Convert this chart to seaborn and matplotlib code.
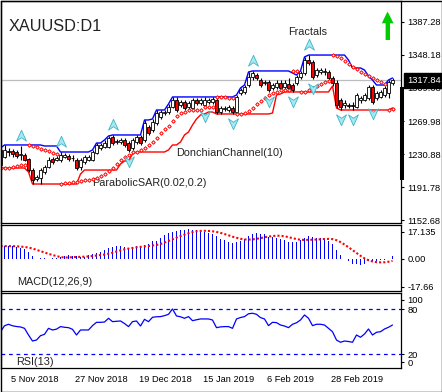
import numpy as np
import pandas as pd
import matplotlib
matplotlib.use("Agg")
import matplotlib.pyplot as plt
import matplotlib.transforms as mtransforms
from matplotlib.path import Path
from matplotlib.patches import Polygon, Rectangle
import seaborn as sns

# ---------------- data ----------------
open_ = [1218.0, 1227.5, 1234.6, 1234.6, 1233.4, 1229.9, 1229.9, 1225.1, 1212.1, 1201.5,
         1202.7, 1209.8, 1215.7, 1225.1, 1223.9, 1223.9, 1227.5, 1228.7, 1226.3, 1223.9,
         1215.7, 1221.6, 1223.9, 1223.9, 1232.2, 1238.1, 1239.3, 1239.3, 1251.1, 1245.2,
         1245.2, 1247.6, 1244.0, 1238.1, 1245.2, 1251.1, 1247.6, 1262.9, 1259.4, 1267.7,
         1274.7, 1279.4, 1280.6, 1286.5, 1294.8, 1288.9, 1292.5, 1286.5, 1285.4, 1294.8,
         1291.3, 1288.9, 1292.5, 1292.5, 1294.8, 1280.6, 1284.2, 1283.0, 1285.4, 1280.6,
         1303.1, 1304.3, 1312.5, 1322.0, 1324.3, 1318.4, 1314.9, 1316.1, 1309.0, 1310.2,
         1314.9, 1310.2, 1313.7, 1312.5, 1314.9, 1322.0, 1326.7, 1342.0, 1339.7, 1324.3,
         1327.9, 1327.9, 1327.9, 1320.8, 1314.9, 1294.8, 1288.9, 1288.9, 1288.9, 1286.5,
         1294.8, 1294.8, 1297.2, 1310.2, 1297.2, 1298.4, 1300.7, 1303.1, 1314.9]
high_ = [1238.1, 1241.7, 1238.1, 1236.9, 1235.8, 1240.5, 1232.2, 1226.3, 1214.5, 1206.2,
         1214.5, 1218.0, 1227.5, 1227.5, 1228.7, 1233.4, 1232.2, 1231.0, 1229.9, 1226.3,
         1226.3, 1229.9, 1229.9, 1235.8, 1244.0, 1244.0, 1247.6, 1252.3, 1253.5, 1248.8,
         1249.9, 1249.9, 1246.4, 1249.9, 1253.5, 1253.5, 1271.2, 1265.3, 1272.4, 1283.0,
         1283.0, 1283.0, 1290.1, 1298.4, 1298.4, 1294.8, 1294.8, 1293.6, 1297.2, 1297.2,
         1297.2, 1298.4, 1297.2, 1298.4, 1297.2, 1287.7, 1287.7, 1288.9, 1287.7, 1300.7,
         1309.0, 1312.5, 1327.9, 1329.1, 1326.7, 1320.8, 1318.4, 1318.4, 1314.9, 1318.4,
         1318.4, 1318.4, 1320.8, 1314.9, 1324.3, 1329.1, 1345.6, 1347.9, 1342.0, 1332.6,
         1332.6, 1332.6, 1330.2, 1323.2, 1318.4, 1297.2, 1294.8, 1291.3, 1292.5, 1303.1,
         1299.5, 1303.1, 1312.5, 1312.5, 1305.4, 1306.6, 1311.3, 1318.4, 1320.8]
low_ = [1214.5, 1226.3, 1228.7, 1227.5, 1226.3, 1223.9, 1222.8, 1209.8, 1195.6, 1199.1,
        1195.6, 1207.4, 1214.5, 1219.2, 1222.8, 1221.6, 1226.3, 1222.8, 1222.8, 1212.1,
        1212.1, 1219.2, 1222.8, 1222.8, 1231.0, 1235.8, 1238.1, 1238.1, 1241.7, 1242.8,
        1242.8, 1239.3, 1233.4, 1235.8, 1242.8, 1241.7, 1245.2, 1253.5, 1257.0, 1265.3,
        1272.4, 1277.1, 1278.3, 1285.4, 1280.6, 1286.5, 1283.0, 1284.2, 1283.0, 1288.9,
        1288.9, 1286.5, 1290.1, 1290.1, 1278.3, 1278.3, 1281.8, 1280.6, 1278.3, 1279.4,
        1300.7, 1301.9, 1310.2, 1318.4, 1318.4, 1310.2, 1312.5, 1304.3, 1306.6, 1307.8,
        1306.6, 1307.8, 1306.6, 1304.3, 1312.5, 1319.6, 1324.3, 1336.1, 1319.6, 1322.0,
        1325.5, 1324.3, 1318.4, 1311.3, 1285.4, 1283.0, 1285.4, 1285.4, 1283.0, 1285.4,
        1291.3, 1293.6, 1294.8, 1290.1, 1294.8, 1297.2, 1298.4, 1297.2, 1312.5]
close_ = [1235.8, 1235.8, 1233.4, 1231.0, 1228.7, 1231.0, 1223.9, 1212.1, 1200.3, 1203.9,
          1212.1, 1215.7, 1223.9, 1221.6, 1226.3, 1229.9, 1229.9, 1225.1, 1225.8, 1214.5,
          1223.9, 1227.5, 1227.5, 1233.4, 1241.7, 1241.7, 1244.0, 1249.9, 1244.0, 1246.4,
          1247.6, 1241.7, 1235.8, 1247.6, 1251.1, 1244.0, 1267.7, 1255.8, 1268.8, 1279.4,
          1280.6, 1281.0, 1286.5, 1294.8, 1283.0, 1292.5, 1285.4, 1291.3, 1294.8, 1291.3,
          1294.8, 1294.8, 1294.8, 1295.5, 1280.6, 1285.4, 1285.0, 1286.5, 1280.6, 1298.4,
          1306.6, 1310.2, 1322.0, 1326.7, 1320.8, 1312.5, 1316.1, 1306.6, 1312.5, 1314.9,
          1309.0, 1314.9, 1309.0, 1306.6, 1322.0, 1326.7, 1342.0, 1338.5, 1322.0, 1330.2,
          1330.2, 1329.5, 1320.8, 1314.9, 1288.9, 1286.5, 1291.3, 1287.7, 1287.7, 1300.7,
          1297.2, 1300.7, 1310.2, 1292.5, 1303.1, 1304.3, 1309.0, 1316.1, 1318.4]
macd_main = [8.0, 8.0, 8.0, 8.0, 7.3, 6.7, 6.3, 4.2, 1.9, 0.1,
             0.6, 0.6, 0.1, 0.6, 0.6, 0.8, 1.5, 2.3, 1.5, 1.9,
             1.3, 1.0, 2.1, 2.7, 3.8, 4.2, 5.4, 6.5, 7.3, 8.0,
             8.0, 7.7, 6.9, 7.3, 8.0, 8.0, 9.0, 9.2, 11.1, 11.5,
             13.0, 15.1, 16.1, 17.2, 17.8, 18.0, 18.0, 18.6, 18.0, 18.0,
             16.9, 16.9, 16.3, 15.7, 14.4, 12.7, 12.1, 10.6, 10.2, 10.6,
             11.2, 12.7, 14.4, 15.7, 16.3, 15.7, 15.7, 14.0, 13.7, 13.1,
             12.3, 11.6, 10.6, 10.6, 10.6, 11.6, 13.1, 14.4, 13.7, 13.1,
             13.1, 12.3, 11.2, 9.3, 5.5, 2.5, 0.1, -1.7, -3.2, -3.2,
             -3.8, -3.2, -1.7, -1.7, -1.3, -1.1, -1.1, -0.2, 1.5]
rsi_13 = [50, 58, 60, 58, 57, 56.4, 54.6, 45.7, 37.7, 39,
          44.8, 46.6, 54.6, 52.4, 53.5, 56.9, 56, 55.5, 53.3, 45.7,
          52.4, 52.4, 52.4, 58.2, 62.6, 62.6, 63, 68, 63.5, 64,
          64.4, 61, 56.9, 63.5, 64.4, 57.7, 66.6, 63.5, 69.3, 70,
          70.2, 71.5, 73.3, 80.4, 71.1, 70, 68, 70.2, 64.8, 66,
          67.1, 67.1, 67.1, 65.7, 55.5, 56.5, 56.9, 56.9, 54.6, 67.1,
          69, 70.2, 74, 74.7, 73.3, 68.9, 67.1, 58.2, 62.6, 62.2,
          59, 57.7, 55.5, 60, 62, 65.7, 72.4, 68, 58.2, 60,
          60, 59, 54.6, 50.1, 39, 36, 37.7, 37, 36, 45.7,
          42.7, 47, 53.7, 45.7, 49.3, 50.1, 53.7, 56, 59]
price_ticks = [1387.28, 1348.18, 1309.08, 1269.98, 1230.88, 1191.78, 1152.68]
macd_ticks = [17.135, 0.0, -17.66]
macd_tick_labels = ["17.135", "0.00", "-17.66"]
rsi_levels = [80, 20]
rsi_tick_pos = [92.5, 80, 20, 9.5]
rsi_tick_labels = ["100", "80", "20", "0"]
date_idx = [3, 19, 35, 51, 67, 83]
date_labels = ["5 Nov 2018", "27 Nov 2018", "19 Dec 2018", "15 Jan 2019", "6 Feb 2019", "28 Feb 2019"]
last_price = 1317.84

# ---------------- indicators derived from the data ----------------
o, h, l, c = (np.asarray(v, dtype=float) for v in (open_, high_, low_, close_))
n = len(c)
idx = np.arange(n)
don_up = pd.Series(h).rolling(10, min_periods=1).max().to_numpy()
don_lo = pd.Series(l).rolling(10, min_periods=1).min().to_numpy()


def parabolic_sar(h, l, step=0.02, amax=0.2):
    sar = np.empty(len(h))
    up, af, ep, s = True, step, h[0], l[0]
    sar[0] = s
    for i in range(1, len(h)):
        s = s + af * (ep - s)
        if up:
            s = min(s, l[i - 1], l[i - 2] if i >= 2 else l[i - 1])
            if l[i] < s:
                up, s, ep, af = False, ep, l[i], step
            elif h[i] > ep:
                ep, af = h[i], min(af + step, amax)
        else:
            s = max(s, h[i - 1], h[i - 2] if i >= 2 else h[i - 1])
            if h[i] > s:
                up, s, ep, af = True, ep, h[i], step
            elif l[i] < ep:
                ep, af = l[i], min(af + step, amax)
        sar[i] = s
    return sar


sar = parabolic_sar(h, l)
fr_up = [i for i in range(2, n - 2) if h[i] > max(h[i - 2], h[i - 1], h[i + 1], h[i + 2])]
fr_dn = [i for i in range(2, n - 2) if l[i] < min(l[i - 2], l[i - 1], l[i + 1], l[i + 2])]
signal = pd.Series(macd_main).rolling(9, min_periods=1).mean().to_numpy()

# ---------------- figure ----------------
sns.set_style("white")
plt.rcParams['font.family'] = ['Liberation Sans', 'DejaVu Sans']

W, H = 442, 392
fig = plt.figure(figsize=(W / 100, H / 100), dpi=100)


def box(x0, y0, x1, y1):
    return [x0 / W, 1 - y1 / H, (x1 - x0) / W, (y1 - y0) / H]


ax = fig.add_axes(box(0.9, 0.5, 401, 223))
ax2 = fig.add_axes(box(0.9, 224.5, 401, 290.7))
ax3 = fig.add_axes(box(0.9, 293.3, 401, 368.3))
XLIM = (0.1, 100.125)
TXT = '#222222'
for a in (ax, ax2, ax3):
    a.set_xlim(*XLIM)
    a.set_facecolor('white')
    for s in a.spines.values():
        s.set_color('black')
        s.set_linewidth(0.9)
    a.yaxis.tick_right()
    a.tick_params(axis='y', direction='out', length=2.2, width=0.8, pad=2.5,
                  labelsize=6.7, colors='black')
    a.set_xticks([])

# ---- main price panel ----
ax.set_ylim(1149.55, 1412.3)
ax.axhline(last_price, color='#BDBDBD', lw=0.9, zorder=1)
sns.lineplot(x=idx, y=don_up, color='#0000FF', lw=1.0, ax=ax, legend=False, zorder=2)
sns.lineplot(x=idx, y=don_lo, color='#FF0000', lw=1.0, ax=ax, legend=False, zorder=2)

rising = c >= o
ax.vlines(idx, l, h, color='black', lw=0.8, zorder=3)
ax.bar(idx, np.maximum(np.abs(c - o), 0.5), bottom=np.minimum(o, c), width=0.55,
       color=np.where(rising, 'white', '#FF0000'), edgecolor='black', lw=0.6, zorder=4)

ax.plot(idx, sar, ls='none', marker='D', ms=1.8, mfc='white', mec='#FF0000', mew=0.7, zorder=5)

up_arrow = Path([(0, 1), (0.8, -0.75), (0, -0.2), (-0.8, -0.75), (0, 1)],
                [Path.MOVETO, Path.LINETO, Path.LINETO, Path.LINETO, Path.CLOSEPOLY])
dn_arrow = Path([(0, -1), (0.8, 0.75), (0, 0.2), (-0.8, 0.75), (0, -1)],
                [Path.MOVETO, Path.LINETO, Path.LINETO, Path.LINETO, Path.CLOSEPOLY])
ax.scatter(fr_up, h[fr_up] + 12.0, marker=up_arrow, s=80, facecolor='#A6E7F0',
           edgecolor='#3CB6CA', linewidth=0.6, zorder=6)
ax.scatter(fr_dn, l[fr_dn] - 10.5, marker=dn_arrow, s=80, facecolor='#A6E7F0',
           edgecolor='#3CB6CA', linewidth=0.6, zorder=6)

ax.set_yticks(price_ticks)
ax.set_yticklabels([f"{v:.2f}" for v in price_ticks])
ax.set_ylabel('')

ax.text(0.02, 0.885, "XAUUSD:D1", transform=ax.transAxes, fontsize=11.7,
        color=TXT, ha='left', va='center')
ax.text(72, 1375.0, "Fractals", fontsize=7.8, color=TXT, ha='left', va='center')
ax.text(43.8, 1232.2, "DonchianChannel(10)", fontsize=7.8, color=TXT, ha='left', va='center')
ax.text(23.0, 1196.8, "ParabolicSAR(0.02,0.2)", fontsize=7.8, color=TXT, ha='left', va='center')

blend = mtransforms.blended_transform_factory(ax.transAxes, ax.transData)
ax.text(1.015, last_price, f"{last_price:.2f}", transform=blend, fontsize=6.7, color='white',
        ha='left', va='center', zorder=20, clip_on=False,
        bbox=dict(boxstyle='square,pad=0.3', fc='black', ec='black'))
ax.plot([1.0025, 1.0025], [0.193, 0.61], transform=ax.transAxes, color='black', lw=2.9,
        solid_capstyle='butt', clip_on=False, zorder=20)

# ---- MACD panel ----
ax2.set_ylim(-20.3, 21.7)
ax2.bar(idx, macd_main, width=0.42, color='#0000FF', linewidth=0, antialiased=False, zorder=2)
sns.lineplot(x=idx, y=signal, color='#FF0000', lw=1.5, ax=ax2, legend=False, zorder=3)
ax2.lines[-1].set_linestyle((0, (1, 1)))
ax2.set_yticks(macd_ticks)
ax2.set_yticklabels(macd_tick_labels)
ax2.set_ylabel('')
ax2.text(0.04, 0.13, "MACD(12,26,9)", transform=ax2.transAxes, fontsize=7.8,
         color=TXT, ha='left', va='center')

# ---- RSI panel ----
ax3.set_ylim(1.3, 101.3)
for lev in rsi_levels:
    ax3.axhline(lev, color='#0000FF', lw=0.9, ls=(0, (3, 3)), zorder=1)
sns.lineplot(x=idx, y=rsi_13, color='#0000FF', lw=0.9, ax=ax3, legend=False, zorder=2)
ax3.set_yticks(rsi_tick_pos)
ax3.set_yticklabels(rsi_tick_labels)
ax3.set_ylabel('')
ax3.text(0.037, 0.09, "RSI(13)", transform=ax3.transAxes, fontsize=7.8,
         color=TXT, ha='left', va='center')
ax3.set_xticks(np.asarray(date_idx) - 0.3)
ax3.set_xticklabels(date_labels, ha='left')
ax3.tick_params(axis='x', direction='out', length=2.2, width=0.8, pad=2.3,
                labelsize=6.7, colors='black')
ax3.set_xlim(*XLIM)

# ---- decorations: green arrow and outer frame ----
arrow_px = [(387.5, 11.5), (381.8, 23.3), (385.6, 23.3), (385.6, 40), (390.0, 40),
            (390.0, 23.3), (393.6, 23.3)]
fig.add_artist(Polygon([(x / W, 1 - y / H) for x, y in arrow_px], closed=True,
                       transform=fig.transFigure, facecolor='#00CC00', edgecolor='none'))
fig.add_artist(Rectangle((0.5 / W, 0.5 / H), 1 - 1 / W, 1 - 1 / H, transform=fig.transFigure,
                         fill=False, edgecolor='black', lw=1.0))

fig.savefig("out.png", dpi=100)
